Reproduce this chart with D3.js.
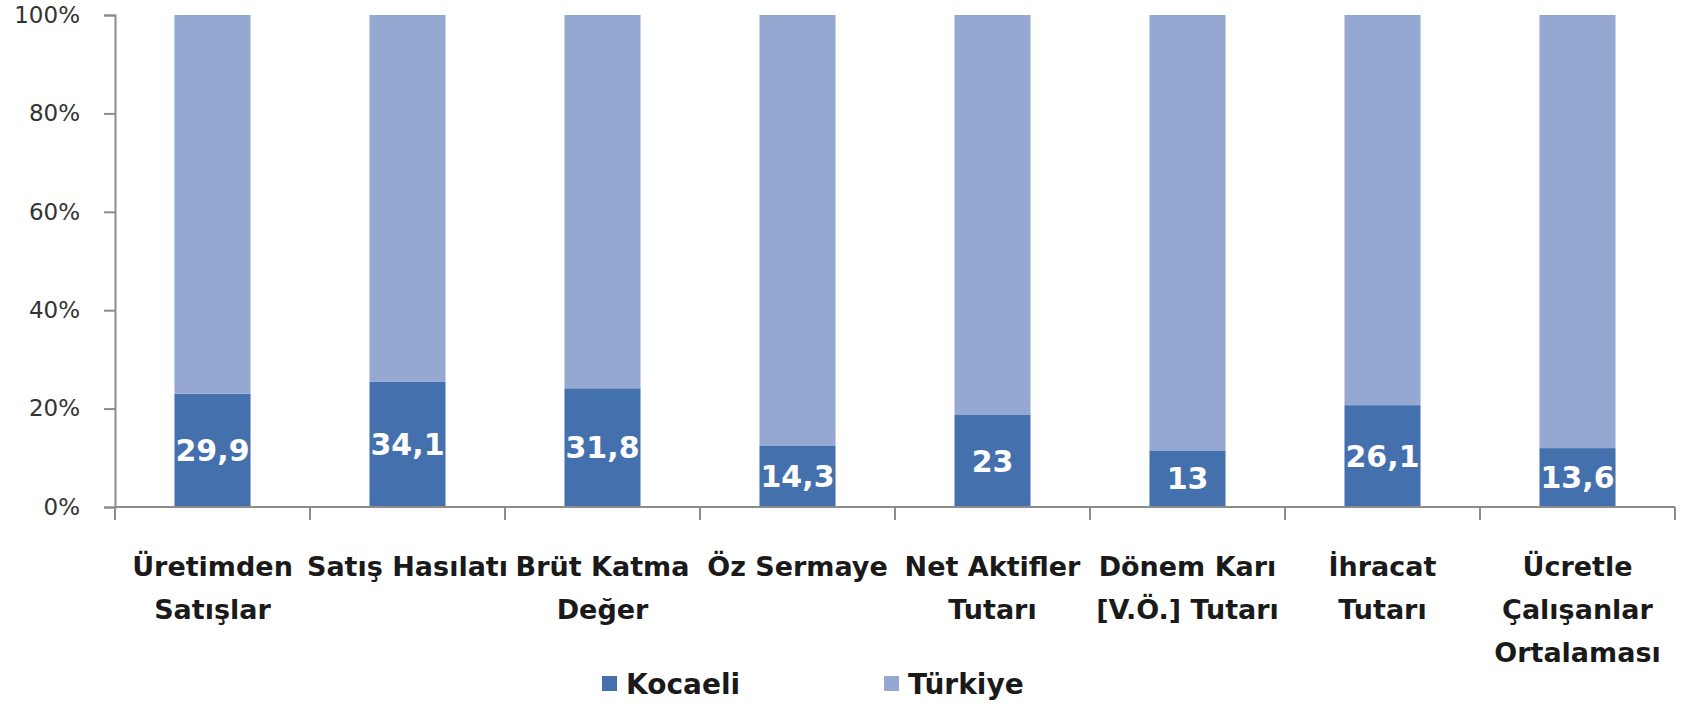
<!DOCTYPE html>
<html>
<head>
<meta charset="utf-8">
<script src="https://cdn.jsdelivr.net/npm/d3@7"></script>
<style>
  body { margin: 0; background: #fff; }
  svg text { font-family: "DejaVu Sans", sans-serif; }
</style>
</head>
<body>
<div id="chart"></div>
<script>
// categories (line breaks as in the original chart)
var categories = [
  "Üretimden\nSatışlar",
  "Satış Hasılatı",
  "Brüt Katma\nDeğer",
  "Öz Sermaye",
  "Net Aktifler\nTutarı",
  "Dönem Karı\n[V.Ö.] Tutarı",
  "İhracat\nTutarı",
  "Ücretle\nÇalışanlar\nOrtalaması"
];
var kocaeli = [29.9, 34.1, 31.8, 14.3, 23, 13, 26.1, 13.6];
var turkiye = [100, 100, 100, 100, 100, 100, 100, 100];
var seriesNames = ["Kocaeli", "Türkiye"];
var yTicks = [0, 0.2, 0.4, 0.6, 0.8, 1];

var width = 1702, height = 708;
var margin = {top: 15, right: 27, bottom: 201, left: 115};
var colors = {"Kocaeli": "#4470ad", "Türkiye": "#95a8d2"};
var axisColor = "#8c8c8c";

var rows = categories.map(function(c, i) {
  return {category: c, "Kocaeli": kocaeli[i], "Türkiye": turkiye[i]};
});

var svg = d3.select("#chart").append("svg")
    .attr("width", width)
    .attr("height", height);

var x = d3.scaleBand()
    .domain(categories)
    .range([margin.left, width - margin.right])
    .paddingInner(0.61)
    .paddingOuter(0.305);

var y = d3.scaleLinear()
    .domain([0, 1])
    .range([height - margin.bottom, margin.top]);

var stack = d3.stack()
    .keys(seriesNames)
    .offset(d3.stackOffsetExpand);
var layers = stack(rows);

// bars
var groups = svg.selectAll("g.layer")
    .data(layers)
    .enter().append("g")
    .attr("class", "layer")
    .attr("fill", function(d) { return colors[d.key]; });

groups.selectAll("rect")
    .data(function(d) { return d; })
    .enter().append("rect")
    .attr("x", function(d) { return x(d.data.category); })
    .attr("width", x.bandwidth())
    .attr("y", function(d) { return y(d[1]); })
    .attr("height", function(d) { return y(d[0]) - y(d[1]); });

// data labels on Kocaeli segment
svg.append("g").selectAll("text")
    .data(layers[0])
    .enter().append("text")
    .attr("x", function(d) { return x(d.data.category) + x.bandwidth() / 2; })
    .attr("y", function(d) { return (y(d[0]) + y(d[1])) / 2; })
    .attr("dy", "0.36em")
    .attr("text-anchor", "middle")
    .attr("fill", "#fff")
    .style("font-size", "30px")
    .style("font-weight", "bold")
    .text(function(d) { return String(d.data["Kocaeli"]).replace(".", ","); });

// y axis
var yAxis = svg.append("g")
    .attr("transform", "translate(" + margin.left + ",0)")
    .call(d3.axisLeft(y).tickValues(yTicks).tickFormat(d3.format(".0%")).tickSizeOuter(0).tickSize(11).tickPadding(24));
yAxis.select(".domain").attr("stroke", axisColor).attr("stroke-width", 2);
yAxis.selectAll(".tick line").attr("stroke", axisColor).attr("stroke-width", 2);
yAxis.selectAll(".tick text")
    .attr("fill", "#333")
    .style("font-size", "23px")
    .style("font-family", "DejaVu Sans, sans-serif");

// x axis: line with tick marks at category boundaries
var xAxisG = svg.append("g")
    .attr("transform", "translate(0," + y(0) + ")");
xAxisG.append("line")
    .attr("x1", x.range()[0]).attr("x2", x.range()[1])
    .attr("stroke", axisColor).attr("stroke-width", 2);
var bounds = categories.map(function(c) { return x(c) - x.step() * x.paddingInner() / 2; });
bounds.push(x.range()[1]);
xAxisG.selectAll("line.tick")
    .data(bounds)
    .enter().append("line")
    .attr("class", "tick")
    .attr("x1", function(d) { return d; }).attr("x2", function(d) { return d; })
    .attr("y1", 0).attr("y2", 13)
    .attr("stroke", axisColor).attr("stroke-width", 2);

// category labels
var catLabels = svg.append("g").selectAll("text")
    .data(categories)
    .enter().append("text")
    .attr("x", function(d) { return x(d) + x.bandwidth() / 2; })
    .attr("y", 576)
    .attr("text-anchor", "middle")
    .attr("fill", "#1a1a1a")
    .style("font-size", "27px")
    .style("font-weight", "bold");
catLabels.each(function(d) {
  var t = d3.select(this);
  d.split("\n").forEach(function(line, i) {
    t.append("tspan")
      .attr("x", t.attr("x"))
      .attr("dy", i === 0 ? 0 : 43)
      .text(line);
  });
});

// legend
var legendX = [602, 884];
var legend = svg.append("g").selectAll("g")
    .data(seriesNames)
    .enter().append("g")
    .attr("transform", function(d, i) { return "translate(" + legendX[i] + ",684)"; });
legend.append("rect")
    .attr("x", 0).attr("y", -8)
    .attr("width", 15).attr("height", 15)
    .attr("fill", function(d) { return colors[d]; });
legend.append("text")
    .attr("x", 24)
    .attr("dy", "0.36em")
    .attr("fill", "#1a1a1a")
    .style("font-size", "28px")
    .style("font-weight", "bold")
    .text(function(d) { return d; });
</script>
</body>
</html>
